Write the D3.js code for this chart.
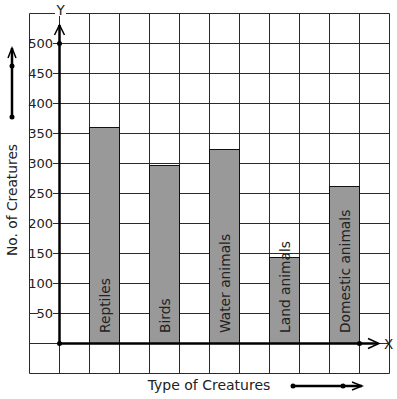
<!DOCTYPE html>
<html>
<head>
<meta charset="utf-8">
<script src="https://cdn.jsdelivr.net/npm/d3@7"></script>
<style>
  body { margin: 0; background: #fff; }
  text { font-family: "DejaVu Sans", sans-serif; fill: #222; }
</style>
</head>
<body>
<script>
var categories = ["Reptiles", "Birds", "Water animals", "Land animals", "Domestic animals"];
var counts = [360, 296, 323, 143, 262];
var tickValues = [50, 100, 150, 200, 250, 300, 350, 400, 450, 500];

var width = 397, height = 399;

var svg = d3.select("body").append("svg")
    .attr("width", width)
    .attr("height", height);

var yScale = d3.scaleLinear().domain([0, 500]).range([343, 43]);
// grid columns: 12 cells of 30px
var gridX = d3.scaleLinear().domain([0, 12]).range([29.5, 389.5]);
var xScale = d3.scaleBand()
    .domain(categories)
    .range([gridX(2), gridX(11)])
    .paddingInner(0.5)
    .paddingOuter(0);

// grid
var grid = svg.append("g").attr("stroke", "#2a2a2a").attr("stroke-width", 1);
grid.selectAll("line.h")
    .data(d3.range(-50, 551, 50))
    .enter().append("line")
    .attr("x1", gridX(0)).attr("x2", gridX(12))
    .attr("y1", function(d) { return Math.round(yScale(d)) + 0.5; })
    .attr("y2", function(d) { return Math.round(yScale(d)) + 0.5; });
grid.selectAll("line.v")
    .data(d3.range(0, 13))
    .enter().append("line")
    .attr("x1", function(d) { return gridX(d); })
    .attr("x2", function(d) { return gridX(d); })
    .attr("y1", Math.round(yScale(550)) + 0.5)
    .attr("y2", Math.round(yScale(-50)) + 0.5);

// bars
svg.selectAll("rect.bar")
    .data(counts)
    .enter().append("rect")
    .classed("bar", true)
    .attr("x", function(d, i) { return xScale(categories[i]); })
    .attr("y", function(d) { return Math.round(yScale(d)) + 0.5; })
    .attr("width", xScale.bandwidth())
    .attr("height", function(d) { return Math.round(yScale(0)) - Math.round(yScale(d)); })
    .attr("fill", "#999")
    .attr("stroke", "#111")
    .attr("stroke-width", 1);

// bar labels
svg.selectAll("text.barlab")
    .data(categories)
    .enter().append("text")
    .attr("transform", function(d) {
        return "translate(" + (xScale(d) + xScale.bandwidth() / 2 + 5) + "," + (yScale(0) - 10) + ") rotate(-90)";
    })
    .attr("font-size", 13.8)
    .text(function(d) { return d; });

// y tick labels with white boxes
var ticks = svg.selectAll("g.tick")
    .data(tickValues)
    .enter().append("g")
    .attr("transform", function(d) { return "translate(53," + (Math.round(yScale(d)) + 0.5) + ")"; });
ticks.append("rect")
    .attr("x", function(d) { return d < 100 ? -15 : -23; })
    .attr("y", -7)
    .attr("width", function(d) { return d < 100 ? 15 : 23; })
    .attr("height", 14)
    .attr("fill", "#fff");
ticks.append("text")
    .attr("text-anchor", "end")
    .attr("dy", "0.36em")
    .attr("font-size", 13)
    .text(function(d) { return d; });

// axes
var axisG = svg.append("g").attr("stroke", "#000").attr("fill", "none");
var y0 = Math.round(yScale(0)) + 0.5;
axisG.append("line")
    .attr("x1", gridX(1)).attr("x2", gridX(1))
    .attr("y1", y0).attr("y2", 25)
    .attr("stroke-width", 2.5);
axisG.append("path")
    .attr("d", "M" + (gridX(1) - 5) + ",35 L" + gridX(1) + ",25 L" + (gridX(1) + 5) + ",35")
    .attr("stroke-width", 1.5);
axisG.append("line")
    .attr("x1", gridX(1)).attr("x2", 378)
    .attr("y1", y0).attr("y2", y0)
    .attr("stroke-width", 2.5);
axisG.append("path")
    .attr("d", "M368," + (y0 - 5) + " L379," + y0 + " L368," + (y0 + 5))
    .attr("stroke-width", 1.5);

svg.selectAll("circle.axdot")
    .data([[gridX(1), y0], [gridX(1), Math.round(yScale(500)) + 0.5], [gridX(11), y0]])
    .enter().append("circle")
    .attr("cx", function(d) { return d[0]; })
    .attr("cy", function(d) { return d[1]; })
    .attr("r", 2.5)
    .attr("fill", "#000");

// axis letters
svg.append("rect").attr("x", 55).attr("y", 4).attr("width", 11).attr("height", 12).attr("fill", "#fff");
svg.append("text").attr("x", gridX(1) + 1).attr("y", 15).attr("text-anchor", "middle")
    .attr("font-size", 13.5).text("Y");
svg.append("text").attr("x", 384).attr("y", y0 + 5)
    .attr("font-size", 13.5).text("X");

// axis titles
svg.append("text")
    .attr("transform", "translate(17,200) rotate(-90)")
    .attr("text-anchor", "middle")
    .attr("font-size", 13.8)
    .text("No. of Creatures");
svg.append("text")
    .attr("x", 209).attr("y", 390)
    .attr("text-anchor", "middle")
    .attr("font-size", 14)
    .text("Type of Creatures");

// decorative arrows beside the titles
var deco = svg.append("g").attr("stroke", "#000").attr("fill", "none");
deco.append("line").attr("x1", 12).attr("x2", 12).attr("y1", 117).attr("y2", 48).attr("stroke-width", 2.5);
deco.append("path").attr("d", "M8,58 L12,48 L16,58").attr("stroke-width", 1.5);
deco.append("line").attr("x1", 293).attr("x2", 362).attr("y1", 386).attr("y2", 386).attr("stroke-width", 2.5);
deco.append("path").attr("d", "M352,382 L362,386 L352,390").attr("stroke-width", 1.5);
svg.selectAll("circle.deco")
    .data([[12, 117], [12, 66], [293, 386], [343, 386]])
    .enter().append("circle")
    .attr("cx", function(d) { return d[0]; })
    .attr("cy", function(d) { return d[1]; })
    .attr("r", 2.5)
    .attr("fill", "#000");
</script>
</body>
</html>
